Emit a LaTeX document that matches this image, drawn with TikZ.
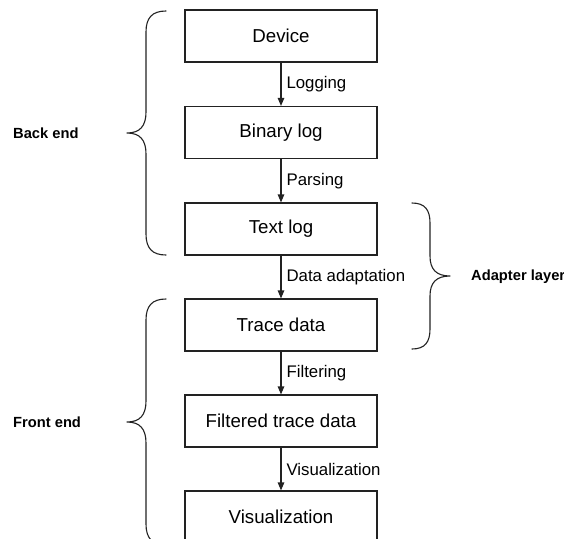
\documentclass[tikz,border=0pt]{standalone}
\usepackage{fontspec}
\setmainfont{Liberation Sans}
\usetikzlibrary{arrows.meta}

\definecolor{ink}{HTML}{222222}

\tikzset{
  x=1pt, y=-1pt,
  stage/.style={draw=ink, line width=1.1pt, minimum width=192pt, minimum height=52pt,
    inner sep=0pt, text=black, font=\fontsize{18.7}{22}\selectfont},
  flow/.style={draw=ink, line width=1.1pt, -{Triangle[length=8pt,width=6.5pt]}},
  flowlabel/.style={anchor=west, xshift=4pt, inner sep=1pt, text=black,
    font=\fontsize{16.8}{20}\selectfont},
  bracket/.style={draw=ink, line width=1.1pt, line join=round, line cap=round},
  layer/.style={inner sep=0pt, text=black, font=\bfseries\fontsize{14.7}{18}\selectfont}
}

\begin{document}
\begin{tikzpicture}
\useasboundingbox (0,0) rectangle (564,538);

% processing stages
\node[stage] (device)   at (281,36)    {Device};
\node[stage] (binlog)   at (281,132.5) {Binary log};
\node[stage] (textlog)  at (281,229)   {Text log};
\node[stage] (trace)    at (281,325)   {Trace data};
\node[stage] (filtered) at (281,421)   {Filtered trace data};
\node[stage] (visual)   at (281,517)   {Visualization};

% transitions between stages
\draw[flow] (device)   -- node[flowlabel] {Logging} (binlog);
\draw[flow] (binlog)   -- node[flowlabel] {Parsing} (textlog);
\draw[flow] (textlog)  -- node[flowlabel] {Data adaptation} (trace);
\draw[flow] (trace)    -- node[flowlabel] {Filtering} (filtered);
\draw[flow] (filtered) -- node[flowlabel] {Visualization} (visual);

% back end brace
\coordinate (beTop) at (166,11);
\coordinate (beTip) at (127,133);
\coordinate (beBot) at (166,255);
\draw[bracket] (beTop) .. controls (152,11) and (146,18) .. (146,32)
  -- (146,112) .. controls (146,126) and (140,133) .. (beTip)
  .. controls (140,133) and (146,140) .. (146,154)
  -- (146,234) .. controls (146,248) and (152,255) .. (beBot);
\node[layer, anchor=west] (backend) at (13,133) {Back end};

% front end brace
\coordinate (feTop) at (166,299);
\coordinate (feTip) at (127,422);
\coordinate (feBot) at (166,545);
\draw[bracket] (feTop) .. controls (152,299) and (146,306) .. (146,320)
  -- (146,401) .. controls (146,415) and (140,422) .. (feTip)
  .. controls (140,422) and (146,429) .. (146,443)
  -- (146,524) .. controls (146,538) and (152,545) .. (feBot);
\node[layer, anchor=west] (frontend) at (13,422) {Front end};

% adapter layer brace
\coordinate (alTop) at (412,203);
\coordinate (alTip) at (450,276);
\coordinate (alBot) at (412,349);
\draw[bracket] (alTop) .. controls (425,203) and (430,210) .. (430,223)
  -- (430,256) .. controls (430,269) and (436,276) .. (alTip)
  .. controls (436,276) and (430,283) .. (430,296)
  -- (430,329) .. controls (430,342) and (425,349) .. (alBot);
\node[layer, anchor=west] (adapter) at (471,277) {Adapter layer};
\end{tikzpicture}
\end{document}
